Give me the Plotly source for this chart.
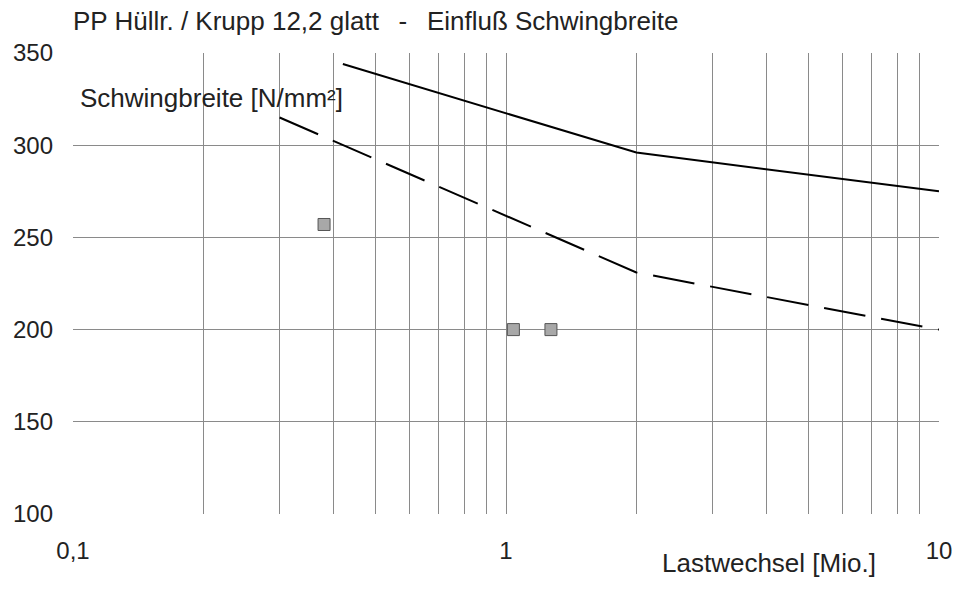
import plotly.graph_objects as go

# Load cycles (millions) and stress range (N/mm²)
solid_x = [0.42, 2.0, 10.0]
solid_y = [344, 296, 275]

dashed_x = [0.3, 2.0, 10.0]
dashed_y = [315, 231, 200]

test_x = [0.38, 1.04, 1.27]
test_y = [257, 200, 200]

x_grid = [0.1, 0.2, 0.3, 0.4, 0.5, 0.6, 0.7, 0.8, 0.9,
          1, 2, 3, 4, 5, 6, 7, 8, 9, 10]
x_labels = {0.1: "0,1", 1: "1", 10: "10"}
y_ticks = [100, 150, 200, 250, 300, 350]

font_family = "Liberation Sans, Arial, sans-serif"
ink = "#222222"
gap = "\u00a0\u00a0\u2009"

# plot area in pixels
L, R, T, B = 73, 948, 53, 514
W, H = 964, 591
pw, ph = R - L, B - T

fig = go.Figure()
fig.add_trace(go.Scatter(x=solid_x, y=solid_y, mode="lines",
                         line=dict(color="black", width=2), showlegend=False))
fig.add_trace(go.Scatter(x=dashed_x, y=dashed_y, mode="lines",
                         line=dict(color="black", width=2, dash="42px,16px"),
                         showlegend=False))
fig.add_trace(go.Scatter(x=test_x, y=test_y, mode="markers",
                         marker=dict(symbol="square", size=12, color="#a8a8a8",
                                     line=dict(color="#555555", width=1)),
                         showlegend=False))

fig.update_layout(
    width=W, height=H,
    margin=dict(l=L, r=W - R, t=T, b=H - B),
    paper_bgcolor="white", plot_bgcolor="white",
    font=dict(family=font_family, size=22, color=ink),
    separators=",.",
    title=dict(text="PP Hüllr. / Krupp 12,2 glatt" + gap + "-" + gap + "Einfluß Schwingbreite",
               x=L / W, xanchor="left", y=1 - 21 / H, yanchor="middle",
               font=dict(size=26, color=ink)),
    xaxis=dict(type="log", range=[-1, 1],
               tickvals=x_grid,
               ticktext=[x_labels.get(v, "") for v in x_grid],
               showgrid=True, gridcolor="#8a8a8a", gridwidth=1,
               zeroline=False, showline=False, ticks="",
               tickfont=dict(size=24), ticklabelstandoff=20),
    yaxis=dict(range=[100, 350], tickvals=y_ticks,
               showgrid=True, gridcolor="#8a8a8a", gridwidth=1,
               zeroline=False, showline=False, ticks="",
               tickfont=dict(size=24), ticklabelstandoff=19),
    annotations=[
        dict(text="Schwingbreite [N/mm²]", xref="paper", yref="paper",
             x=5 / pw, y=1 - (98 - T) / ph, xanchor="left", yanchor="middle",
             showarrow=False, font=dict(size=26, color=ink)),
        dict(text="Lastwechsel [Mio.]", xref="paper", yref="paper",
             x=(666 - L) / pw, y=-(563 - B) / ph, xanchor="left",
             yanchor="middle", showarrow=False,
             font=dict(size=26, color=ink)),
    ],
)

fig.write_html("out.html")
